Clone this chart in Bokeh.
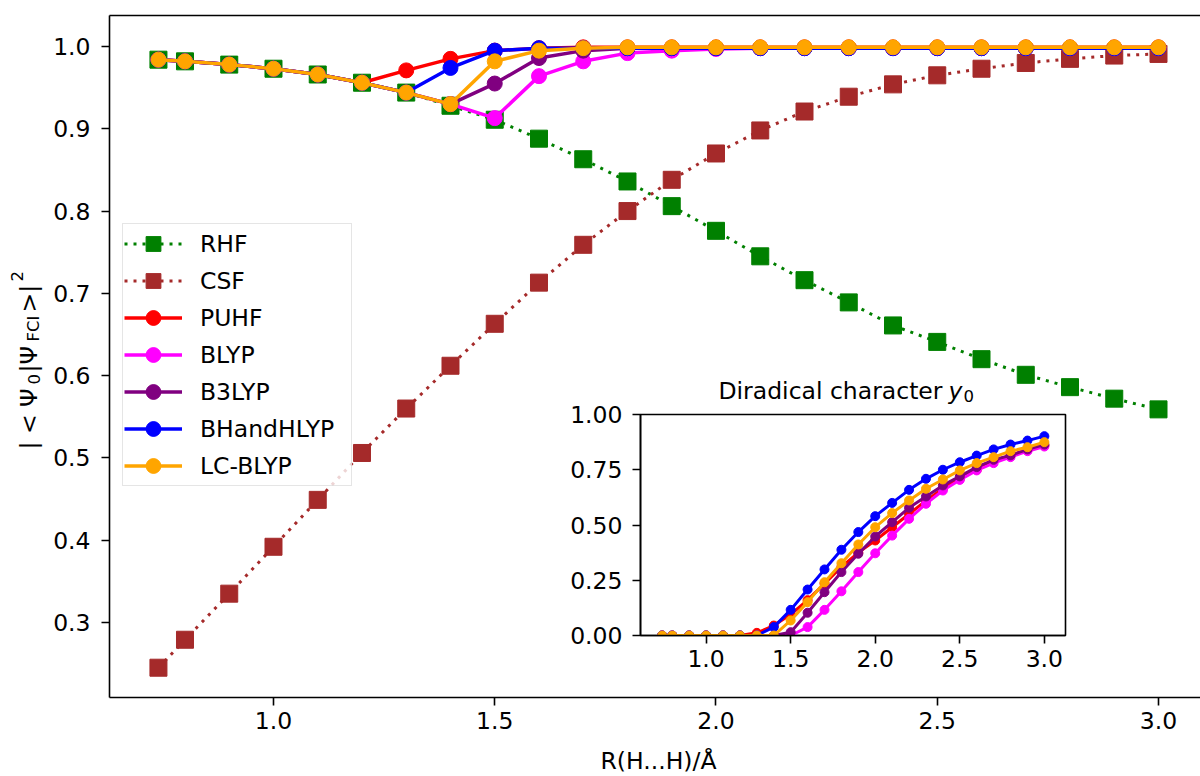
import math
from bokeh.plotting import figure
from bokeh.models import (Range1d, FixedTicker, PrintfTickFormatter, Label, Legend,
                          LegendItem, LinearAxis)
from bokeh.layouts import column
from bokeh.embed import file_html
from bokeh.resources import INLINE

# ---------------- data ----------------
R = [0.74, 0.8, 0.9, 1.0, 1.1, 1.2, 1.3, 1.4, 1.5, 1.6, 1.7, 1.8, 1.9, 2.0,
     2.1, 2.2, 2.3, 2.4, 2.5, 2.6, 2.7, 2.8, 2.9, 3.0]

RHF = [0.984, 0.982, 0.978, 0.973, 0.966, 0.956, 0.944, 0.928, 0.911, 0.888,
       0.863, 0.836, 0.806, 0.776, 0.745, 0.716, 0.689, 0.661, 0.641, 0.620,
       0.601, 0.586, 0.572, 0.559]
CSF = [0.245, 0.279, 0.335, 0.392, 0.449, 0.506, 0.560, 0.612, 0.663, 0.713,
       0.759, 0.800, 0.838, 0.870, 0.898, 0.921, 0.939, 0.954, 0.965, 0.973,
       0.980, 0.985, 0.989, 0.991]
PUHF = [0.984, 0.982, 0.978, 0.973, 0.966, 0.956, 0.971, 0.985, 0.995, 0.998,
        0.999, 0.999, 0.999, 0.999, 0.999, 0.999, 0.999, 0.999, 0.999, 0.999,
        0.999, 0.999, 0.999, 0.999]
BLYP = [0.984, 0.982, 0.978, 0.973, 0.966, 0.956, 0.944, 0.930, 0.913, 0.964,
        0.982, 0.992, 0.995, 0.997, 0.998, 0.998, 0.998, 0.998, 0.998, 0.998,
        0.998, 0.998, 0.998, 0.998]
B3LYP = [0.984, 0.982, 0.978, 0.973, 0.966, 0.956, 0.944, 0.930, 0.955, 0.986,
         0.995, 0.998, 0.998, 0.998, 0.998, 0.998, 0.998, 0.998, 0.998, 0.998,
         0.998, 0.998, 0.998, 0.998]
BHandHLYP = [0.984, 0.982, 0.978, 0.973, 0.966, 0.956, 0.944, 0.974, 0.995, 0.998,
             0.998, 0.998, 0.998, 0.998, 0.998, 0.998, 0.998, 0.998, 0.998, 0.998,
             0.998, 0.998, 0.998, 0.998]
LCBLYP = [0.984, 0.982, 0.978, 0.973, 0.966, 0.956, 0.944, 0.930, 0.982, 0.995,
          0.998, 0.999, 0.999, 0.999, 0.999, 0.999, 0.999, 0.999, 0.999, 0.999,
          0.999, 0.999, 0.999, 0.999]

# diradical character y0 (inset)
PUHF_y0 = [0, 0, 0, 0, 0, 0, 0.012, 0.045, 0.095, 0.160, 0.235, 0.310, 0.375,
           0.430, 0.490, 0.550, 0.610, 0.665, 0.710, 0.750, 0.790, 0.815, 0.840, 0.860]
BLYP_y0 = [0, 0, 0, 0, 0, 0, 0, 0, 0.0, 0.038, 0.116, 0.200, 0.287, 0.372,
           0.452, 0.528, 0.596, 0.656, 0.704, 0.747, 0.780, 0.807, 0.834, 0.855]
B3LYP_y0 = [0, 0, 0, 0, 0, 0, 0, 0, 0.015, 0.103, 0.196, 0.287, 0.370, 0.448,
            0.513, 0.578, 0.629, 0.679, 0.720, 0.762, 0.795, 0.815, 0.842, 0.864]
BH_y0 = [0, 0, 0, 0, 0, 0, 0, 0.038, 0.116, 0.208, 0.299, 0.388, 0.468, 0.540,
         0.600, 0.659, 0.709, 0.750, 0.784, 0.814, 0.842, 0.864, 0.882, 0.902]
LC_y0 = [0, 0, 0, 0, 0, 0, 0, 0, 0.068, 0.151, 0.241, 0.327, 0.412, 0.490,
         0.554, 0.611, 0.664, 0.706, 0.747, 0.780, 0.807, 0.834, 0.852, 0.875]

main_xticks = [1.0, 1.5, 2.0, 2.5, 3.0]
main_yticks = [0.3, 0.4, 0.5, 0.6, 0.7, 0.8, 0.9, 1.0]
inset_xticks = [1.0, 1.5, 2.0, 2.5, 3.0]
inset_yticks = [0.0, 0.25, 0.5, 0.75, 1.0]

FONT = "DejaVu Sans"
FS = "23.5px"
FS_SUB = "16.5px"


def no_align(fig):
    try:
        fig.frame_align = False
    except Exception:
        pass


def style_axes(fig):
    for ax in (fig.xaxis[0], fig.yaxis[0]):
        ax.major_tick_out = 8
        ax.major_tick_in = 0
        ax.minor_tick_line_color = None
        ax.axis_line_color = "black"
        ax.axis_line_width = 1.6
        ax.major_tick_line_width = 1.6
        ax.major_tick_line_color = "black"
        ax.major_label_text_font = FONT
        ax.major_label_text_font_size = FS
        ax.major_label_text_color = "black"


# ---------------- overlay for texts outside the frames (top of page) ----------------
OV_H = 775
ov = figure(width=1200, height=OV_H, output_backend="svg", toolbar_location=None,
            x_range=Range1d(0, 1200), y_range=Range1d(0, OV_H),
            x_axis_location=None, y_axis_location=None,
            min_border=0, min_border_left=0, min_border_right=0,
            min_border_top=0, min_border_bottom=0)
no_align(ov)
ov.grid.visible = False
ov.outline_line_color = None
ov.background_fill_color = None
ov.border_fill_color = None


def add_text(t, x, y, fs=FS, angle=0.0, style="normal", align="left"):
    ov.add_layout(Label(x=x, y=y, x_units="screen", y_units="screen", angle=angle,
                        text=t, text_font=FONT, text_font_size=fs,
                        text_font_style=style, text_color="black",
                        text_align=align, text_baseline="alphabetic"))


# x axis label
add_text("R(H...H)/Å", 658, 15, align="center")

# y axis label |<Ψ0|ΨFCI>|^2 composed of pieces (rotated)
ang = math.pi / 2
add_text("| < Ψ", 28, 326, angle=ang)
add_text("0", 33, 391, fs=FS_SUB, angle=ang)
add_text("|Ψ", 28, 403, angle=ang)
add_text("FCI", 33, 434, fs=FS_SUB, angle=ang)
add_text(">|", 28, 463, angle=ang)
add_text("2", 16, 494, fs=FS_SUB, angle=ang)

# inset title "Diradical character y0"
add_text("Diradical character", 718, 385)
add_text("y", 948, 385, style="italic")
add_text("0", 963, 380, fs=FS_SUB)

# ---------------- inset figure ----------------
Q_TOP = 374
Q_H = 321
q = figure(width=545, height=Q_H, output_backend="svg", toolbar_location=None,
           x_range=Range1d(0.612, 3.125), y_range=Range1d(0.0, 1.0),
           min_border_left=100, min_border_right=20, min_border_top=40,
           min_border_bottom=60)
no_align(q)
q.grid.visible = False
q.background_fill_color = "white"
q.border_fill_color = None
q.outline_line_color = "black"
q.outline_line_width = 1.6
style_axes(q)
q.xaxis.ticker = FixedTicker(ticks=inset_xticks)
q.yaxis.ticker = FixedTicker(ticks=inset_yticks)
q.xaxis.formatter = PrintfTickFormatter(format="%.1f")
q.yaxis.formatter = PrintfTickFormatter(format="%.2f")
q.xaxis.major_label_standoff = 6
q.yaxis.major_label_standoff = 10

inset_series = [(PUHF_y0, "red"), (BLYP_y0, "magenta"), (B3LYP_y0, "purple"),
                (BH_y0, "blue"), (LC_y0, "orange")]
for ys, col in inset_series:
    q.line(R, ys, line_color=col, line_width=3)
    q.scatter(R, ys, marker="circle", size=9, fill_color=col, line_color=col)

q.margin = (Q_TOP - OV_H, 0, 0, 540)

# ---------------- main figure (transparent, drawn last) ----------------
p = figure(frame_width=1091, frame_height=682, output_backend="svg",
           toolbar_location=None,
           x_range=Range1d(0.6294, 3.0949), y_range=Range1d(0.2088, 1.0377),
           min_border_left=109, min_border_right=0, min_border_top=15,
           min_border_bottom=60)
no_align(p)
p.grid.visible = False
p.background_fill_color = None
p.border_fill_color = None
p.outline_line_color = None
style_axes(p)
p.xaxis.ticker = FixedTicker(ticks=main_xticks)
p.yaxis.ticker = FixedTicker(ticks=main_yticks)
p.xaxis.formatter = PrintfTickFormatter(format="%.1f")
p.yaxis.formatter = PrintfTickFormatter(format="%.1f")
p.xaxis.major_label_standoff = 6
p.yaxis.major_label_standoff = 11

# top spine (no ticks)
top_spine = LinearAxis(ticker=FixedTicker(ticks=[]), major_tick_out=0, major_tick_in=0,
                       minor_tick_out=0, minor_tick_in=0, axis_line_width=1.6,
                       axis_line_color="black", major_label_text_font_size="0px")
p.add_layout(top_spine, "above")

dot = "3 6"
items = []
r1 = p.line(R, RHF, line_color="green", line_width=3, line_dash=dot)
r2 = p.scatter(R, RHF, marker="square", size=17, fill_color="green", line_color="green")
items.append(LegendItem(label="RHF", renderers=[r1, r2]))
r1 = p.line(R, CSF, line_color="brown", line_width=3, line_dash=dot)
r2 = p.scatter(R, CSF, marker="square", size=17, fill_color="brown", line_color="brown")
items.append(LegendItem(label="CSF", renderers=[r1, r2]))

methods = [("PUHF", PUHF, "red"), ("BLYP", BLYP, "magenta"), ("B3LYP", B3LYP, "purple"),
           ("BHandHLYP", BHandHLYP, "blue"), ("LC-BLYP", LCBLYP, "orange")]
for name, ys, col in methods:
    r1 = p.line(R, ys, line_color=col, line_width=3.5)
    r2 = p.scatter(R, ys, marker="circle", size=15, fill_color=col, line_color=col)
    items.append(LegendItem(label=name, renderers=[r1, r2]))

leg = Legend(items=items, location=(13, 211))
leg.label_text_font = FONT
leg.label_text_font_size = FS
leg.label_text_color = "black"
leg.glyph_width = 58
leg.glyph_height = 37
leg.label_height = 26
leg.label_width = 150
leg.spacing = 0
leg.padding = 1
leg.label_standoff = 18
leg.border_line_color = "#cccccc"
leg.border_line_width = 1.5
leg.background_fill_color = "white"
leg.background_fill_alpha = 0.8
leg.margin = 0
p.add_layout(leg, "center")

p.margin = (-(Q_TOP + Q_H), 0, 0, 0)

layout = column(ov, q, p)
open("out.html", "w").write(file_html(layout, INLINE))
